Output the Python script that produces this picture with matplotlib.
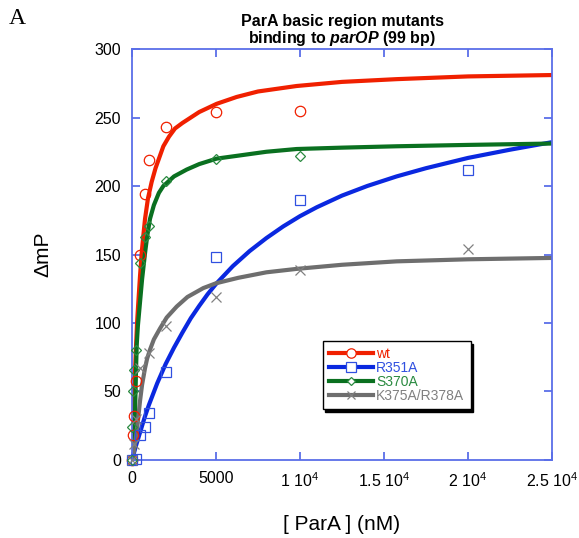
import numpy as np
import matplotlib
matplotlib.use('Agg')
import matplotlib.pyplot as plt
from matplotlib.lines import Line2D

plt.rcParams['font.family'] = ['Liberation Sans', 'DejaVu Sans']
plt.rcParams['mathtext.fontset'] = 'custom'
plt.rcParams['mathtext.rm'] = 'Liberation Sans'
plt.rcParams['mathtext.it'] = 'Liberation Sans:italic:bold'
plt.rcParams['mathtext.bf'] = 'Liberation Sans:bold'

# measured points
wt_x = [0, 50, 100, 250, 500, 750, 1000, 2000, 5000, 10000]
wt_y = [0, 18, 32, 58, 150, 194, 219, 243, 254, 255]
r351_x = [0, 250, 500, 750, 1000, 2000, 5000, 10000, 20000]
r351_y = [0, 1, 18, 24, 34, 64, 148, 190, 212]
s370_x = [0, 25, 50, 100, 250, 500, 750, 1000, 2000, 5000, 10000]
s370_y = [0, 24, 50, 66, 80, 144, 163, 171, 204, 220, 222]
k375_x = [0, 100, 250, 500, 1000, 2000, 5000, 10000, 20000]
k375_y = [0, 12, 30, 67, 78, 98, 119, 139, 154]

# fitted curves
wt_fit_x = [0, 50, 100, 170, 240, 300, 375, 475, 575, 675, 775, 950, 1170, 1400, 1865,
            2200, 2560, 3000, 4000, 5040, 6230, 7500, 9800, 12500, 15750, 20000, 25000]
wt_fit_y = [0, 20, 38, 62, 83, 100, 115, 134, 151, 164, 176, 191, 203, 213, 229,
            236, 242, 246, 254, 260, 265, 269, 273, 276, 278, 280, 281]
r351_fit_x = [0, 250, 500, 750, 1000, 1500, 2000, 2500, 3000, 3500, 4000, 4500, 5000, 6000,
              7000, 8000, 9000, 10000, 11000, 12500, 14000, 15750, 17500, 20000, 22500, 25000]
r351_fit_y = [0, 11, 21, 31, 40, 56, 70, 82, 93, 103.5, 112.5, 121, 128.5, 141.5,
              152.5, 162, 170.5, 178, 184.5, 193, 200, 207, 213, 220.5, 226.5, 232]
s370_fit_x = [0, 100, 150, 200, 240, 280, 350, 475, 600, 775, 900, 1070, 1300, 1600, 1865,
              2500, 3255, 4000, 5040, 6230, 8000, 9800, 12500, 15750, 20000, 25000]
s370_fit_y = [0, 8, 20, 45, 66, 84, 98, 115, 132, 151, 163, 176, 186, 195, 200,
              207, 212, 216, 220, 222, 225, 227, 228, 229, 230, 231]
k375_fit_x = [0, 80, 180, 280, 380, 476, 600, 774, 900, 1070, 1300, 1667, 2065, 2660, 3300,
              4245, 5000, 6330, 8000, 9800, 12500, 15750, 20000, 25000]
k375_fit_y = [0, 4, 12, 21, 32, 43, 55, 67, 74, 80.5, 88, 96, 104, 112, 119,
              125.5, 129, 133, 137, 139.5, 142.5, 145, 146.5, 147.5]

labels = ['wt', 'R351A', 'S370A', 'K375A/R378A']
colors = ['#f02000', '#0a28e0', '#0a7020', '#6e6e6e']
mk_colors = ['#f02000', '#3050e0', '#2a8a40', '#808080']
markers = ['o', 's', 'D', 'x']
msizes = [7.5, 7.5, 5, 6.5]

xticks = [0, 5000, 10000, 15000, 20000, 25000]
xticklabels = ['0', '5000', '1 10$^{4}$', '1.5 10$^{4}$', '2 10$^{4}$', '2.5 10$^{4}$']
yticks = [0, 50, 100, 150, 200, 250, 300]

points = [(wt_x, wt_y), (r351_x, r351_y), (s370_x, s370_y), (k375_x, k375_y)]
fits = [(wt_fit_x, wt_fit_y), (r351_fit_x, r351_fit_y), (s370_fit_x, s370_fit_y), (k375_fit_x, k375_fit_y)]

fig = plt.figure(figsize=(5.79, 5.38), dpi=100)
ax = fig.add_axes([0.228, 0.145, 0.7254, 0.7639])

for i in range(4):
    px, py = points[i]
    ax.plot(px, py, linestyle='none', marker=markers[i], ms=msizes[i],
            mfc='none', mec=mk_colors[i], mew=0.9, clip_on=False, zorder=3)
for i in range(4):
    fx, fy = fits[i]
    ax.plot(fx, fy, color=colors[i], lw=3, solid_capstyle='butt',
            solid_joinstyle='round', zorder=2)

ax.set_xlim(0, 25000)
ax.set_ylim(0, 300)
ax.set_xticks(xticks)
ax.set_xticklabels(xticklabels)
ax.set_yticks(yticks)
spine_c = '#5a6ee8'
for s in ax.spines.values():
    s.set_color(spine_c)
    s.set_linewidth(1.3)
ax.tick_params(direction='in', length=6, width=1.3, color=spine_c,
               top=True, right=True, labelsize=11.5, pad=8)

ax.set_title('ParA basic region mutants\nbinding to $parOP$ (99 bp)',
             fontsize=11.5, fontweight='bold', linespacing=1.0, pad=4)
ax.set_xlabel('[ ParA ] (nM)', fontsize=15)
ax.xaxis.set_label_coords(0.5, -0.135)
ax.set_ylabel('\u0394mP', fontsize=15)
ax.yaxis.set_label_coords(-0.19, 0.5)

fig.text(0.015, 0.965, 'A', fontsize=17, family='Liberation Serif', va='center')

handles = [Line2D([0], [0], color=colors[i], lw=3, marker=markers[i], ms=msizes[i] * 0.9,
                  mfc='white', mec=mk_colors[i], mew=0.9) for i in range(4)]
leg = ax.legend(handles, labels, loc='upper left', bbox_to_anchor=(0.454, 0.29),
                borderaxespad=0, fontsize=10, labelcolor=mk_colors, fancybox=False,
                edgecolor='black', framealpha=1, shadow={'color': 'black', 'alpha': 1},
                handlelength=3.2, handletextpad=0.2, labelspacing=0.0, borderpad=0.45)
leg.get_frame().set_linewidth(1.0)

fig.savefig('out.png', dpi=100)
